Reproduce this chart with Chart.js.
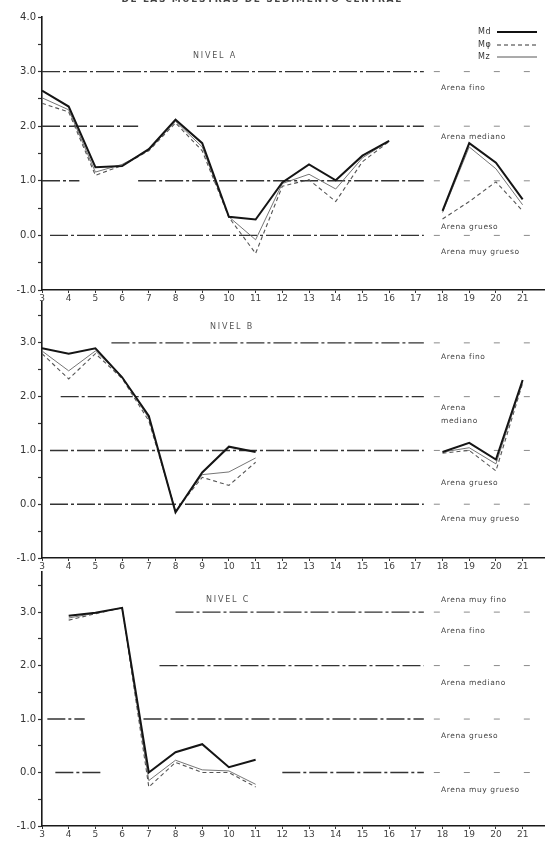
<!DOCTYPE html>
<html>
<head>
<meta charset="utf-8">
<script src="https://cdn.jsdelivr.net/npm/chart.js@4/dist/chart.umd.min.js"></script>
<style>
  html, body { margin: 0; padding: 0; background: #fff; }
  body { width: 552px; height: 844px; position: relative; overflow: hidden; }
  canvas { position: absolute; left: 0; }
</style>
</head>
<body>
<canvas id="cA" width="552" height="305" style="top:0px"></canvas>
<canvas id="cB" width="552" height="282" style="top:290px"></canvas>
<canvas id="cC" width="552" height="282" style="top:562px"></canvas>
<script>
// ---------- DATA ----------
const stations = [3,4,5,6,7,8,9,10,11,12,13,14,15,16,17,18,19,20,21];
const xTickLabels = ['3','4','5','6','7','8','9','10','11','12','13','14','15','16','17','18','19','20','21'];
const yTickValues = [-1, 0, 1, 2, 3, 4];

// Nivel A
const mdA = [2.65, 2.36, 1.25, 1.27, 1.58, 2.12, 1.69, 0.34, 0.29, 0.97, 1.30, 1.01, 1.46, 1.73, null, 0.45, 1.69, 1.33, 0.66];
const mphiA = [2.42, 2.26, 1.10, 1.28, 1.55, 2.06, 1.55, 0.33, -0.33, 0.90, 1.02, 0.62, 1.35, 1.72, null, 0.30, 0.62, 0.98, 0.45];
const mzA = [2.52, 2.30, 1.16, 1.30, 1.56, 2.09, 1.62, 0.34, -0.08, 0.95, 1.12, 0.85, 1.42, 1.73, null, 0.42, 1.62, 1.22, 0.56];
// Nivel B
const mdB = [2.90, 2.80, 2.90, 2.36, 1.64, -0.15, 0.59, 1.07, 0.97, null, null, null, null, null, null, 0.97, 1.14, 0.83, 2.31];
const mphiB = [2.80, 2.33, 2.80, 2.34, 1.55, -0.12, 0.50, 0.35, 0.78, null, null, null, null, null, null, 0.95, 1.00, 0.62, 2.25];
const mzB = [2.85, 2.48, 2.85, 2.37, 1.60, -0.13, 0.55, 0.60, 0.86, null, null, null, null, null, null, 0.97, 1.05, 0.75, 2.28];
// Nivel C
const mdC = [null, 2.93, 2.99, 3.08, 0.00, 0.38, 0.53, 0.10, 0.24, null, null, null, null, null, null, null, null, null, null];
const mphiC = [null, 2.85, 2.97, 3.08, -0.27, 0.19, 0.00, 0.00, -0.27, null, null, null, null, null, null, null, null, null, null];
const mzC = [null, 2.89, 2.98, 3.08, -0.15, 0.23, 0.05, 0.03, -0.22, null, null, null, null, null, null, null, null, null, null];

// Phi class boundaries and sand class names
const boundaries = [3, 2, 1, 0];
const classesA = [['Arena fino', 2.69], ['Arena mediano', 1.81], ['Arena grueso', 0.15], ['Arena muy grueso', -0.31]];
const classesB = [['Arena fino', 2.73], ['Arena', 1.78], ['mediano', 1.54], ['Arena grueso', 0.39], ['Arena muy grueso', -0.28]];
const classesC = [['Arena muy fino', 3.23], ['Arena fino', 2.65], ['Arena mediano', 1.68], ['Arena grueso', 0.69], ['Arena muy grueso', -0.32]];

const seriesNames = ['Md', 'M\u03C6', 'Mz'];
const title = 'DE LAS MUESTRAS DE SEDIMENTO CENTRAL';

// ---------- DRAWING ----------
const FONT = '"DejaVu Sans", sans-serif';

function pts(arr) { return stations.map((x, i) => ({ x: x, y: arr[i] })); }

function makePanel(id, opts) {
  const ctx = document.getElementById(id).getContext('2d');
  const decor = {
    id: 'decor' + id,
    beforeDatasetsDraw(chart) {
      const c = chart.ctx, xs = chart.scales.x, ys = chart.scales.y;
      const ca = chart.chartArea;
      const xSplit = xs.getPixelForValue(17.3);
      c.save();
      boundaries.forEach((b) => {
        const y = ys.getPixelForValue(b);
        const segs = (opts.segments && opts.segments[b]) || [[3, 17.3]];
        c.lineWidth = 1.4;
        c.strokeStyle = '#333';
        c.setLineDash([18, 3, 3, 3]);
        segs.forEach(([a, e]) => {
          c.beginPath();
          c.moveTo(xs.getPixelForValue(a), y);
          c.lineTo(xs.getPixelForValue(e), y);
          c.stroke();
        });
        c.lineWidth = 1;
        c.strokeStyle = '#8a8a8a';
        c.setLineDash([6, 24]);
        c.beginPath();
        c.moveTo(xSplit + 10, y);
        c.lineTo(ca.right - 2, y);
        c.stroke();
      });
      c.restore();
    },
    afterDraw(chart) {
      const c = chart.ctx, ys = chart.scales.y;
      c.save();
      c.fillStyle = '#444';
      c.font = '7.5px ' + FONT;
      c.textBaseline = 'middle';
      c.textAlign = 'left';
      try { c.letterSpacing = '0.6px'; } catch (e) {}
      opts.classes.forEach(([t, v]) => {
        c.fillText(t, 441, ys.getPixelForValue(v));
      });
      // panel name
      c.font = '8px ' + FONT;
      try { c.letterSpacing = '1.8px'; } catch (e) {}
      c.textAlign = 'center';
      c.fillStyle = '#555';
      c.fillText(opts.name, opts.nameX, ys.getPixelForValue(opts.nameV));
      if (opts.legend) {
        // title (cut at the top edge)
        c.font = 'bold 9px ' + FONT;
        try { c.letterSpacing = '1.6px'; } catch (e) {}
        c.fillStyle = '#444';
        c.fillText(title, 262, -0.5);
        // legend
        c.font = '8px ' + FONT;
        try { c.letterSpacing = '0.5px'; } catch (e) {}
        c.textAlign = 'left';
        c.fillStyle = '#333';
        const ly = [32, 45, 57];
        const styles = [[2, [], '#111'], [1, [4, 3], '#333'], [0.9, [], '#444']];
        seriesNames.forEach((n, i) => {
          c.fillText(n, 478, ly[i]);
          c.lineWidth = styles[i][0];
          c.setLineDash(styles[i][1]);
          c.strokeStyle = styles[i][2];
          c.beginPath();
          c.moveTo(497, ly[i]);
          c.lineTo(537, ly[i]);
          c.stroke();
        });
      }
      c.restore();
    }
  };

  return new Chart(ctx, {
    type: 'line',
    data: {
      datasets: [
        { label: seriesNames[0], data: pts(opts.md), borderColor: '#151515', borderWidth: 2, pointRadius: 0, spanGaps: false, tension: 0 },
        { label: seriesNames[1], data: pts(opts.mphi), borderColor: '#555', borderWidth: 1.1, borderDash: [4, 3], pointRadius: 0, spanGaps: false, tension: 0 },
        { label: seriesNames[2], data: pts(opts.mz), borderColor: '#666', borderWidth: 0.9, pointRadius: 0, spanGaps: false, tension: 0 }
      ]
    },
    options: {
      responsive: false,
      animation: false,
      events: [],
      layout: { padding: { top: opts.top, right: 8, left: 0, bottom: 0 } },
      plugins: { legend: { display: false }, tooltip: { enabled: false } },
      scales: {
        x: {
          type: 'linear',
          min: 3, max: 21.8,
          afterFit(s) { s.height = opts.xh; },
          afterBuildTicks(s) { s.ticks = stations.map(v => ({ value: v })); },
          ticks: {
            callback: (v) => xTickLabels[stations.indexOf(v)] ?? '',
            font: { family: FONT, size: 9 },
            color: '#444',
            padding: 0,
            maxRotation: 0,
            autoSkip: false
          },
          grid: { drawOnChartArea: false, tickLength: 3, tickColor: '#333', tickWidth: 1 },
          border: { color: '#1a1a1a', width: 1.6 }
        },
        y: {
          type: 'linear',
          min: -1, max: opts.ymax,
          afterFit(s) { s.width = 42; },
          afterBuildTicks(s) {
            const t = [];
            for (let v = -1; v <= opts.ymax + 1e-9; v += 0.5) t.push({ value: Math.round(v * 10) / 10 });
            s.ticks = t;
          },
          ticks: {
            callback: (v) => yTickValues.includes(v) ? v.toFixed(1) : '',
            font: { family: FONT, size: 10 },
            color: '#333',
            padding: 2,
            autoSkip: false
          },
          grid: { drawOnChartArea: false, tickLength: 4, tickColor: '#333', tickWidth: 1.2 },
          border: { color: '#1a1a1a', width: 1.6 }
        }
      }
    },
    plugins: [decor]
  });
}

makePanel('cA', {
  md: mdA, mphi: mphiA, mz: mzA, ymax: 4, top: 17, xh: 15,
  classes: classesA, name: 'NIVEL A', nameX: 215, nameV: 3.29, legend: true,
  segments: { 3: [[3, 17.3]], 2: [[3, 6.6], [8.8, 17.3]], 1: [[3, 4.4], [6.6, 17.3]], 0: [[3.3, 17.3]] }
});
makePanel('cB', {
  md: mdB, mphi: mphiB, mz: mzB, ymax: 3.76, top: 12, xh: 14,
  classes: classesB, name: 'NIVEL B', nameX: 232, nameV: 3.3, legend: false,
  segments: { 3: [[5.6, 17.3]], 2: [[3.7, 17.3]], 1: [[3.3, 17.3]], 0: [[3.3, 17.3]] }
});
makePanel('cC', {
  md: mdC, mphi: mphiC, mz: mzC, ymax: 3.75, top: 10, xh: 18,
  classes: classesC, name: 'NIVEL C', nameX: 228, nameV: 3.23, legend: false,
  segments: { 3: [[8.0, 17.3]], 2: [[7.4, 17.3]], 1: [[3.2, 4.6], [6.8, 17.3]], 0: [[3.5, 5.2], [12.0, 17.3]] }
});
</script>
</body>
</html>
